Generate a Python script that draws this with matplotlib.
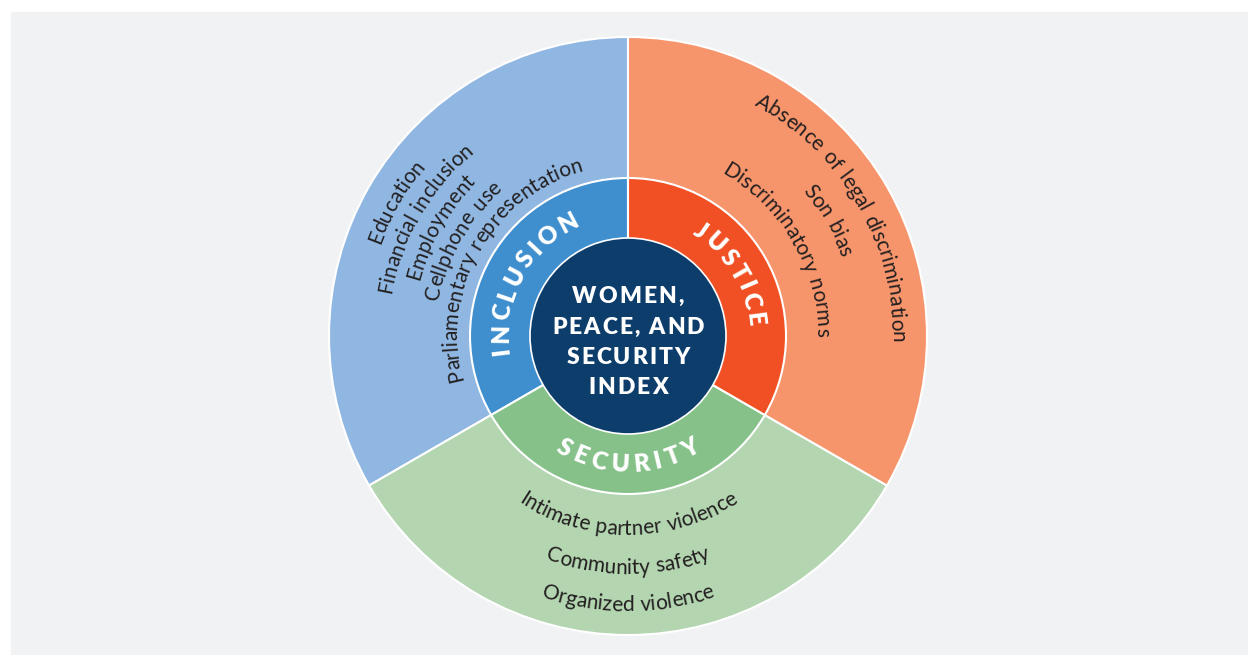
import math

import matplotlib
matplotlib.use("Agg")
import matplotlib.pyplot as plt
from matplotlib.font_manager import FontProperties
from matplotlib.patches import Rectangle

# Pillars (counterclockwise from 12 o'clock) and their indicators
pillars = ["INCLUSION", "SECURITY", "JUSTICE"]
pillar_share = [1, 1, 1]
indicators = {
    "INCLUSION": ["Education", "Financial inclusion", "Employment",
                  "Cellphone use", "Parliamentary representation"],
    "SECURITY": ["Intimate partner violence", "Community safety",
                 "Organized violence"],
    "JUSTICE": ["Absence of legal discrimination", "Son bias",
                "Discriminatory norms"],
}
center_title = ["WOMEN,", "PEACE, AND", "SECURITY", "INDEX"]

outer_colors = ["#8fb7e2", "#b3d5b0", "#f6956b"]
inner_colors = ["#3f8fcf", "#86c18a", "#f15024"]
core_color = "#0d3d6b"
bg = "#f1f2f4"
ink = "#231f20"

W, H = 1248, 655
cx, cy = 628, H - 336
R_OUT, R_IN, R_CORE = 299, 158, 98

fig = plt.figure(figsize=(W / 100, H / 100), dpi=100)
fig.patch.set_facecolor("white")
ax = fig.add_axes([0, 0, 1, 1])
ax.add_patch(Rectangle((11, 0), W - 11, H - 12, color=bg, zorder=0))

ax.pie(pillar_share, radius=R_OUT, center=(cx, cy), startangle=90,
       colors=outer_colors, wedgeprops=dict(edgecolor="white", linewidth=1.5))
ax.pie(pillar_share, radius=R_IN, center=(cx, cy), startangle=90,
       colors=inner_colors, wedgeprops=dict(edgecolor="white", linewidth=1.5))
ax.pie([1], radius=R_CORE, center=(cx, cy), colors=[core_color],
       wedgeprops=dict(edgecolor="white", linewidth=1.2))

ax.set_xlim(0, W)
ax.set_ylim(0, H)
ax.set_aspect("equal")
ax.axis("off")

renderer = fig.canvas.get_renderer()


def text_w(s, prop):
    if not s.strip():
        return 0.0
    w, _, _ = renderer.get_text_width_height_descent(s, prop, ismath=False)
    return w


def layout(s, prop, spacing, space_extra):
    # centre of each glyph along the line, plus full length
    out = []
    nsp = 0
    for i, ch in enumerate(s):
        if ch == " ":
            nsp += 1
            continue
        right = text_w(s[:i + 1], prop)
        out.append((ch, right - text_w(ch, prop) / 2 + i * spacing + nsp * space_extra))
    total = text_w(s, prop) + (len(s) - 1) * spacing + nsp * space_extra
    return out, total


def curved(s, r, mid_deg, prop, top_out=True, spacing=0.0, space_extra=0.0, **kw):
    chars, total = layout(s, prop, spacing, space_extra)
    span = total / r
    mid = math.radians(mid_deg)
    for ch, pos in chars:
        if top_out:
            th = mid + span / 2 - pos / r
            rot = math.degrees(th) - 90
        else:
            th = mid - span / 2 + pos / r
            rot = math.degrees(th) + 90
        ax.text(cx + r * math.cos(th), cy + r * math.sin(th), ch,
                fontproperties=prop, rotation=rot, rotation_mode="anchor",
                ha="center", va="baseline", **kw)


def straight(s, x, y, prop, spacing=0.0, **kw):
    chars, total = layout(s, prop, spacing, 0.0)
    for ch, pos in chars:
        ax.text(x - total / 2 + pos, y, ch, fontproperties=prop,
                ha="center", va="baseline", **kw)


lab = FontProperties(family=["Lato", "DejaVu Sans"], size=15)
head = FontProperties(family=["Lato", "DejaVu Sans"], weight="heavy", size=17.5)
core = FontProperties(family=["Lato", "DejaVu Sans"], weight="heavy", size=16.5)

# indicator labels in the outer ring
for s, r in zip(indicators["INCLUSION"], [264, 240, 216, 193, 171]):
    curved(s, r, 150, lab, top_out=True, space_extra=1.5, color=ink)
for s, r in zip(indicators["JUSTICE"], [263, 227, 188]):
    curved(s, r, 30, lab, top_out=True, space_extra=1.5, color=ink)
for s, r in zip(indicators["SECURITY"], [199, 238, 275]):
    curved(s, r, 270, lab, top_out=False, space_extra=1.5, color=ink)

# pillar names in the inner ring
curved("INCLUSION", 120, 151, head, top_out=True, spacing=3, color="white")
curved("JUSTICE", 120, 31, head, top_out=True, spacing=3, color="white")
curved("SECURITY", 136, 270, head, top_out=False, spacing=5.5, color="white")

# centre title, one line at a time
for line, yb in zip(center_title, [303, 334, 364, 394]):
    straight(line, cx, H - yb, core, spacing=2, color="white")

fig.savefig("out.png", dpi=100, facecolor=fig.get_facecolor())
